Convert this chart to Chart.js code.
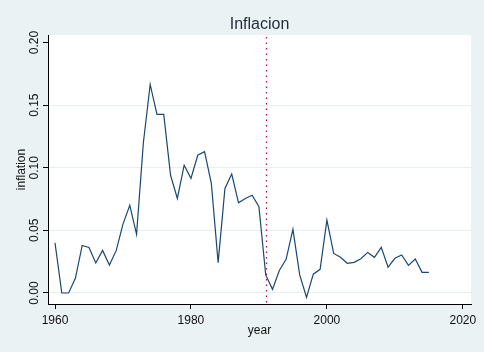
<!DOCTYPE html>
<html>
<head>
<meta charset="utf-8">
<script src="https://cdn.jsdelivr.net/npm/chart.js@4.4.1/dist/chart.umd.min.js"></script>
<style>
  html, body { margin: 0; padding: 0; background: #eaf2f3; }
  #wrap { width: 484px; height: 352px; }
</style>
</head>
<body>
<div id="wrap"><canvas id="c" width="484" height="352"></canvas></div>
<script>
const titleText = "Inflacion";
const xTitle = "year";
const yTitle = "inflation";

const years = [1960,1961,1962,1963,1964,1965,1966,1967,1968,1969,
               1970,1971,1972,1973,1974,1975,1976,1977,1978,1979,
               1980,1981,1982,1983,1984,1985,1986,1987,1988,1989,
               1990,1991,1992,1993,1994,1995,1996,1997,1998,1999,
               2000,2001,2002,2003,2004,2005,2006,2007,2008,2009,
               2010,2011,2012,2013,2014,2015];
const inflation = [0.040,0.000,0.000,0.0117,0.038,0.0364,0.024,0.034,0.0223,0.0338,
                   0.055,0.070,0.0468,0.120,0.1665,0.1426,0.1426,0.094,0.0755,0.102,
                   0.0915,0.110,0.1128,0.0875,0.0242,0.0835,0.095,0.072,0.0755,0.078,
                   0.0689,0.0144,0.0029,0.018,0.0269,0.0508,0.0144,-0.0035,0.015,0.0189,
                   0.0582,0.0316,0.0285,0.0237,0.0245,0.0274,0.0324,0.0285,0.0364,0.0205,
                   0.0277,0.0303,0.022,0.0271,0.0165,0.0165];
const xTicks = [1960, 1980, 2000, 2020];
const yTicks = [0.00, 0.05, 0.10, 0.15, 0.20];
const yTickLabels = ["0.00", "0.05", "0.10", "0.15", "0.20"];
const xlineYear = 1991;

const FONT = '"Liberation Sans", Arial, Helvetica, sans-serif';

const decorPlugin = {
  id: 'decor',
  beforeDraw(chart) {
    const {ctx, chartArea: a} = chart;
    ctx.save();
    ctx.fillStyle = '#eaf2f3';
    ctx.fillRect(0, 0, chart.width, chart.height);
    ctx.fillStyle = '#ffffff';
    ctx.fillRect(a.left, a.top, a.right - a.left, a.bottom - a.top);
    ctx.restore();
  },
  beforeDatasetsDraw(chart) {
    const {ctx, chartArea: a, scales} = chart;
    const x = Math.round(scales.x.getPixelForValue(xlineYear)) + 0.5;
    ctx.save();
    ctx.strokeStyle = '#c8104f';
    ctx.lineWidth = 1.3;
    ctx.setLineDash([1.5, 4]);
    ctx.beginPath();
    ctx.moveTo(x, a.top + 2);
    ctx.lineTo(x, a.bottom);
    ctx.stroke();
    ctx.restore();
  },
  afterDraw(chart) {
    const {ctx, chartArea: a, scales} = chart;
    ctx.save();
    ctx.fillStyle = '#1f2a3c';
    ctx.font = '16px ' + FONT;
    ctx.textAlign = 'center';
    ctx.textBaseline = 'alphabetic';
    ctx.fillText(titleText, (a.left + a.right) / 2, 28.5);
    ctx.fillStyle = '#111111';
    ctx.font = '12px ' + FONT;
    yTicks.forEach((v, i) => {
      const y = scales.y.getPixelForValue(v);
      ctx.save();
      ctx.translate(37.5, y);
      ctx.rotate(-Math.PI / 2);
      ctx.textAlign = 'center';
      ctx.textBaseline = 'alphabetic';
      ctx.fillText(yTickLabels[i], 0, 0);
      ctx.restore();
    });
    ctx.restore();
  }
};

new Chart(document.getElementById('c'), {
  type: 'line',
  data: {
    datasets: [{
      data: years.map((yr, i) => ({x: yr, y: inflation[i]})),
      borderColor: '#1a476f',
      borderWidth: 1.2,
      pointRadius: 0,
      tension: 0,
      fill: false
    }]
  },
  options: {
    responsive: false,
    animation: false,
    devicePixelRatio: 1,
    layout: { padding: { top: 35, right: 13, left: 0, bottom: 0 } },
    plugins: { legend: { display: false }, title: { display: false }, tooltip: { enabled: false } },
    scales: {
      x: {
        type: 'linear',
        min: 1958.97,
        max: 2021.2,
        afterBuildTicks(s) { s.ticks = xTicks.map(v => ({value: v})); },
        afterFit(s) { s.height = 48; },
        ticks: {
          callback: v => String(v),
          color: '#111111',
          font: { family: FONT, size: 12 },
          padding: 4,
          maxRotation: 0,
          minRotation: 0
        },
        grid: { drawOnChartArea: false, tickLength: 5, tickColor: '#000000', tickWidth: 1 },
        border: { display: true, color: '#000000', width: 1 },
        title: { display: true, text: xTitle, color: '#111111', font: { family: FONT, size: 12 }, padding: { top: 0, bottom: 14 } }
      },
      y: {
        type: 'linear',
        min: -0.0088,
        max: 0.206,
        afterBuildTicks(s) { s.ticks = yTicks.map(v => ({value: v})); },
        afterFit(s) { s.width = 48; },
        ticks: { display: false },
        grid: {
          color: ctx => (ctx.tick && Math.abs(ctx.tick.value - 0.20) < 1e-9) ? 'rgba(0,0,0,0)' : '#e6eff1',
          lineWidth: 1,
          tickLength: 5,
          tickColor: '#000000',
          tickWidth: 1
        },
        border: { display: true, color: '#000000', width: 1 },
        title: { display: true, text: yTitle, color: '#111111', font: { family: FONT, size: 12 }, padding: { top: 14, bottom: 0 } }
      }
    }
  },
  plugins: [decorPlugin]
});
</script>
</body>
</html>
